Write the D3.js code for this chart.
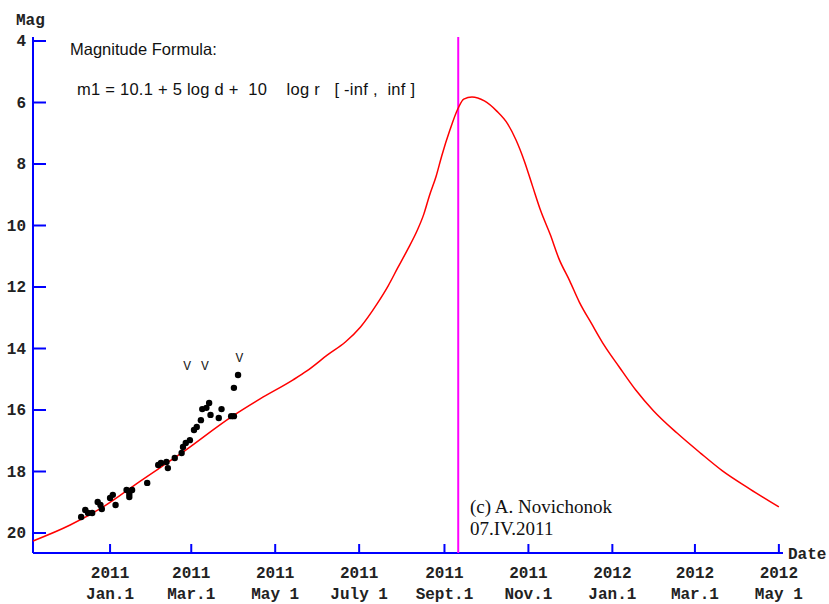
<!DOCTYPE html>
<html>
<head>
<meta charset="utf-8">
<script src="https://cdn.jsdelivr.net/npm/d3@7"></script>
<style>
  body { margin: 0; background: #fff; }
  svg { display: block; }
  .tick-label { font-family: "Liberation Mono", "DejaVu Sans Mono", monospace; font-size: 16px; font-weight: bold; fill: #222; }
  .formula { font-family: "Liberation Sans", Arial, sans-serif; font-size: 16.5px; fill: #111; }
</style>
</head>
<body>
<div id="chart"></div>
<script>
// light curve model (date, magnitude)
var curveDates = ["2010-11-06", "2010-12-03", "2010-12-27", "2011-01-23", "2011-02-21", "2011-03-31",
    "2011-04-20", "2011-05-14", "2011-05-24", "2011-06-08", "2011-06-21", "2011-07-02", "2011-07-14",
    "2011-07-22", "2011-07-29", "2011-08-05", "2011-08-12", "2011-08-17", "2011-08-21", "2011-08-26",
    "2011-08-30", "2011-09-05", "2011-09-11", "2011-09-15", "2011-09-21", "2011-09-30", "2011-10-09",
    "2011-10-17", "2011-10-23", "2011-10-29", "2011-11-04", "2011-11-10", "2011-11-17", "2011-11-23",
    "2011-12-01", "2011-12-08", "2011-12-17", "2011-12-26", "2012-01-06", "2012-01-18", "2012-01-31",
    "2012-02-17", "2012-03-05", "2012-03-21", "2012-04-10", "2012-05-01"];
var curveMags = [20.26, 19.74, 19.15, 18.31, 17.43, 16.20,
    15.64, 15.02, 14.73, 14.21, 13.79, 13.30, 12.55,
    11.97, 11.38, 10.80, 10.18, 9.63, 9.04, 8.39,
    7.74, 6.89, 6.18, 5.89, 5.82, 5.95, 6.28,
    6.70, 7.22, 7.90, 8.72, 9.53, 10.31, 11.06,
    11.80, 12.49, 13.20, 13.89, 14.60, 15.35, 16.03,
    16.75, 17.40, 17.98, 18.57, 19.15];

// observations
var obsDates = ["2010-12-11", "2010-12-14", "2010-12-16", "2010-12-19", "2010-12-23", "2010-12-25",
    "2010-12-26", "2011-01-01", "2011-01-03", "2011-01-05", "2011-01-13", "2011-01-15", "2011-01-17",
    "2011-01-15", "2011-01-28", "2011-02-05", "2011-02-07", "2011-02-11", "2011-02-12", "2011-02-17",
    "2011-02-22", "2011-02-23", "2011-02-25", "2011-02-28", "2011-03-03", "2011-03-05", "2011-03-08",
    "2011-03-09", "2011-03-12", "2011-03-14", "2011-03-15", "2011-03-21", "2011-03-23", "2011-03-30",
    "2011-04-01", "2011-04-01", "2011-04-04"];
var obsMags = [19.48, 19.25, 19.35, 19.35, 18.99, 19.09,
    19.22, 18.86, 18.76, 19.09, 18.60, 18.73, 18.60,
    18.83, 18.37, 17.79, 17.72, 17.69, 17.89, 17.56,
    17.40, 17.20, 17.07, 16.98, 16.65, 16.55, 16.33,
    15.97, 15.93, 15.77, 16.16, 16.26, 15.97, 16.20,
    16.20, 15.28, 14.86];

// upper limits ("V" marks)
var limitDates = ["2011-02-26", "2011-03-11", "2011-04-05"];
var limitMags = [14.54, 14.54, 14.28];

// axis ticks
var tickDates = ["2011-01-01", "2011-03-01", "2011-05-01", "2011-07-01", "2011-09-01", "2011-11-01",
    "2012-01-01", "2012-03-01", "2012-05-01"];
var tickYears = ["2011", "2011", "2011", "2011", "2011", "2011", "2012", "2012", "2012"];
var tickMonths = ["Jan.1", "Mar.1", "May 1", "July 1", "Sept.1", "Nov.1", "Jan.1", "Mar.1", "May 1"];
var magTicks = [4, 6, 8, 10, 12, 14, 16, 18, 20];

var markerDate = "2011-09-11";
var formulaTitle = "Magnitude Formula:";
var formulaText = "m1 = 10.1 + 5 log d +  10    log r   [ -inf ,  inf ]";
var creditLines = ["(c) A. Novichonok", "07.IV.2011"];

var width = 829, height = 604;
var parse = d3.utcParse("%Y-%m-%d");

var svg = d3.select("#chart")
    .append("svg")
    .attr("width", width)
    .attr("height", height);

// scales
var x = d3.scaleUtc()
    .domain([parse("2010-11-06"), parse("2012-05-04")])
    .range([33, 783]);
var y = d3.scaleLinear()
    .domain([4, 20])
    .range([41, 533]);

var axisY = 553;

// Y axis
svg.append("line")
    .attr("x1", 33).attr("x2", 33)
    .attr("y1", 37).attr("y2", axisY)
    .attr("stroke", "#0000ff").attr("stroke-width", 2);
svg.selectAll(".ytick")
    .data(magTicks)
    .enter()
    .append("line")
    .attr("x1", 33).attr("x2", 46)
    .attr("y1", function (d) { return y(d); })
    .attr("y2", function (d) { return y(d); })
    .attr("stroke", "#0000ff").attr("stroke-width", 2);
svg.selectAll(".ylabel")
    .data(magTicks)
    .enter()
    .append("text")
    .attr("class", "tick-label")
    .attr("text-anchor", "end")
    .attr("x", 26)
    .attr("y", function (d) { return y(d) + 5; })
    .text(function (d) { return d; });
svg.append("text")
    .attr("class", "tick-label")
    .attr("x", 16).attr("y", 25)
    .text("Mag");

// X axis
svg.append("line")
    .attr("x1", 33).attr("x2", 783)
    .attr("y1", axisY).attr("y2", axisY)
    .attr("stroke", "#0000ff").attr("stroke-width", 2);
svg.selectAll(".xtick")
    .data(tickDates)
    .enter()
    .append("line")
    .attr("x1", function (d) { return x(parse(d)); })
    .attr("x2", function (d) { return x(parse(d)); })
    .attr("y1", axisY - 9).attr("y2", axisY)
    .attr("stroke", "#0000ff").attr("stroke-width", 2);
svg.selectAll(".xyear")
    .data(tickDates)
    .enter()
    .append("text")
    .attr("class", "tick-label")
    .attr("text-anchor", "middle")
    .attr("x", function (d) { return x(parse(d)); })
    .attr("y", 578)
    .text(function (d, i) { return tickYears[i]; });
svg.selectAll(".xmonth")
    .data(tickDates)
    .enter()
    .append("text")
    .attr("class", "tick-label")
    .attr("text-anchor", "middle")
    .attr("x", function (d) { return x(parse(d)); })
    .attr("y", 599)
    .text(function (d, i) { return tickMonths[i]; });
svg.append("text")
    .attr("class", "tick-label")
    .attr("x", 788).attr("y", 559)
    .text("Date");

// vertical marker
svg.append("line")
    .attr("x1", x(parse(markerDate))).attr("x2", x(parse(markerDate)))
    .attr("y1", 37).attr("y2", axisY)
    .attr("stroke", "#ff00ff").attr("stroke-width", 2);

// model curve
var line = d3.line()
    .x(function (d) { return x(d[0]); })
    .y(function (d) { return y(d[1]); })
    .curve(d3.curveMonotoneX);
svg.append("path")
    .datum(curveDates.map(function (d, i) { return [parse(d), curveMags[i]]; }))
    .attr("d", line)
    .attr("fill", "none")
    .attr("stroke", "#ff0000")
    .attr("stroke-width", 1.5);

// observations
svg.selectAll(".obs")
    .data(obsDates)
    .enter()
    .append("circle")
    .attr("cx", function (d) { return x(parse(d)); })
    .attr("cy", function (d, i) { return y(obsMags[i]); })
    .attr("r", 3.2)
    .attr("fill", "#000");

svg.selectAll(".lim")
    .data(limitDates)
    .enter()
    .append("text")
    .attr("text-anchor", "middle")
    .attr("x", function (d) { return x(parse(d)); })
    .attr("y", function (d, i) { return y(limitMags[i]) + 5; })
    .style("font-family", "Liberation Mono, monospace")
    .style("font-size", "13px")
    .style("fill", "#222")
    .text("V");

// formula text
svg.append("text")
    .attr("class", "formula")
    .attr("x", 70).attr("y", 55)
    .text(formulaTitle);
svg.append("text")
    .attr("class", "formula")
    .attr("x", 77).attr("y", 95)
    .attr("xml:space", "preserve")
    .style("white-space", "pre")
    .attr("textLength", 338)
    .attr("lengthAdjust", "spacing")
    .text(formulaText);

// credit
svg.selectAll(".credit")
    .data(creditLines)
    .enter()
    .append("text")
    .attr("x", 470)
    .attr("y", function (d, i) { return 513 + i * 22; })
    .style("font-family", "Liberation Serif, Times New Roman, serif")
    .style("font-size", "19px")
    .style("fill", "#111")
    .text(function (d) { return d; });
</script>
</body>
</html>
